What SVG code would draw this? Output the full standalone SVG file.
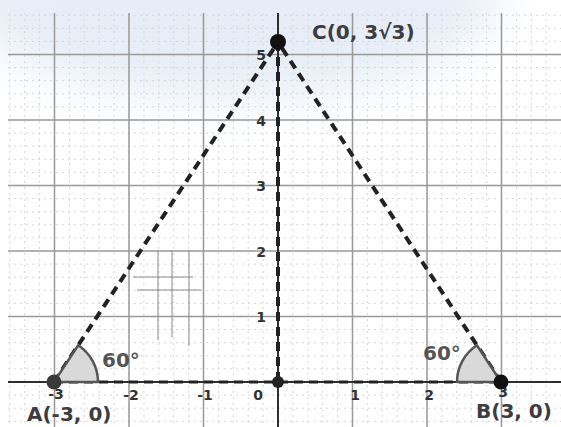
<svg xmlns="http://www.w3.org/2000/svg" width="561" height="427" viewBox="0 0 561 427">
<style>
.minor{stroke:#d6d6d6;stroke-width:1;stroke-dasharray:2 4;fill:none}
.major{stroke:#999;stroke-width:1.5;fill:none}
.axis{stroke:#2e2e2e;stroke-width:2;fill:none}
.dash{stroke:#222;stroke-width:4;stroke-dasharray:9 6;fill:none}
.hatch{stroke:#8a8a8a;stroke-width:1;fill:none}
.wedge{fill:#d9d9d9;stroke:#555;stroke-width:2.5;stroke-linejoin:round}
.num{font-family:"DejaVu Sans",sans-serif;font-weight:bold;font-size:14px;fill:#333}
.lbl{font-family:"DejaVu Sans",sans-serif;font-weight:bold;font-size:20px;fill:#3d3d3d}
.ang{font-family:"DejaVu Sans",sans-serif;font-weight:bold;font-size:20px;fill:#555}
</style>
<defs>
<filter id="blur" x="-50%" y="-50%" width="200%" height="200%"><feGaussianBlur stdDeviation="25"/></filter>
</defs>
<rect width="561" height="427" fill="#ffffff"/>
<ellipse cx="230" cy="-10" rx="270" ry="110" fill="#e2eaf5" opacity="0.85" filter="url(#blur)"/>
<g id="grid">
<path class="minor" d="M9.8,13V427M24.7,13V427M39.6,13V427M54.5,13V427M69.4,13V427M84.3,13V427M99.2,13V427M114.1,13V427M129,13V427M143.9,13V427M158.8,13V427M173.7,13V427M188.6,13V427M203.5,13V427M218.4,13V427M233.3,13V427M248.2,13V427M263.1,13V427M292.9,13V427M307.8,13V427M322.7,13V427M337.6,13V427M352.5,13V427M367.4,13V427M382.3,13V427M397.2,13V427M412.1,13V427M427,13V427M441.9,13V427M456.8,13V427M471.7,13V427M486.6,13V427M501.5,13V427M516.4,13V427M531.3,13V427M546.2,13V427"/>
<path class="minor" d="M8,15.2H561M8,28.3H561M8,41.4H561M8,67.6H561M8,80.7H561M8,93.8H561M8,106.9H561M8,133.1H561M8,146.2H561M8,159.3H561M8,172.4H561M8,198.6H561M8,211.7H561M8,224.8H561M8,237.9H561M8,264.1H561M8,277.2H561M8,290.3H561M8,303.4H561M8,329.6H561M8,342.7H561M8,355.8H561M8,368.9H561M8,395.1H561M8,408.2H561M8,421.3H561"/>
<path class="major" d="M54.5,13V427M129,13V427M203.5,13V427M352.5,13V427M427,13V427M501.5,13V427M8,54.5H561M8,120H561M8,185.5H561M8,251H561M8,316.5H561"/>
<path class="axis" d="M8,382H561M278,13V427"/>
<path class="hatch" d="M158,250V340M172,250V337M189,250V346M133,277H193M137,290H201"/>
</g>
<g id="tick-labels">
<text class="num" x="56" y="399" text-anchor="middle">-3</text>
<text class="num" x="131" y="400" text-anchor="middle">-2</text>
<text class="num" x="205" y="400" text-anchor="middle">-1</text>
<text class="num" x="258" y="400" text-anchor="middle">0</text>
<text class="num" x="355" y="400" text-anchor="middle">1</text>
<text class="num" x="429" y="400" text-anchor="middle">2</text>
<text class="num" x="503" y="397" text-anchor="middle">3</text>
<text class="num" x="266" y="60" text-anchor="end">5</text>
<text class="num" x="266" y="125.5" text-anchor="end">4</text>
<text class="num" x="266" y="191" text-anchor="end">3</text>
<text class="num" x="266" y="256.5" text-anchor="end">2</text>
<text class="num" x="266" y="322" text-anchor="end">1</text>
</g>
<g id="connectors">
<path class="dash" d="M54,382L278,42"/>
<path class="dash" d="M501,382L278,42"/>
<path class="dash" d="M278,42V382"/>
<path class="dash" d="M54,382H501" style="stroke-width:3"/>
</g>
<g id="angle-A">
<path class="wedge" d="M54,382L98,382A44,44 0 0 0 78.2,345.3Z"/>
<text class="ang" x="102" y="367">60°</text>
</g>
<g id="angle-B">
<path class="wedge" d="M501,382L457,382A44,44 0 0 1 476.9,345.3Z"/>
<text class="ang" x="423" y="360">60°</text>
</g>
<g id="point-O"><circle cx="278" cy="382" r="6" fill="#222"/></g>
<g id="point-A">
<circle cx="54" cy="382" r="7.5" fill="#3a3a3a"/>
<text class="lbl" x="27" y="421">A(-3, 0)</text>
</g>
<g id="point-B">
<circle cx="501" cy="382" r="7.5" fill="#111"/>
<text class="lbl" x="476" y="418">B(3, 0)</text>
</g>
<g id="point-C">
<circle cx="278" cy="42" r="8" fill="#111"/>
<text class="lbl" x="312" y="39">C(0, 3√3)</text>
</g>
</svg>
